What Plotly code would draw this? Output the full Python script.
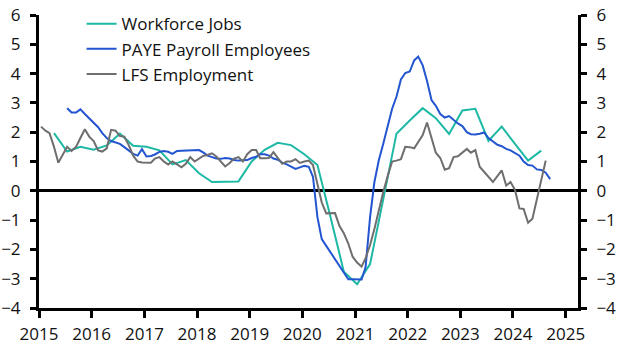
import pandas as pd
import plotly.graph_objects as go

# ---- Data ----
wfj_dates = pd.date_range("2015-03-15", periods=38, freq="3MS") + pd.Timedelta(days=14)
wfj_values = [
    1.97, 1.34, 1.50, 1.40,
    1.55, 1.95, 1.54, 1.50,
    1.38, 0.90, 1.05, 0.60,
    0.30, 0.31, 0.32, 1.00,
    1.40, 1.64, 1.56, 1.25,
    0.88, -0.90, -2.76, -3.19,
    -2.50, -0.30, 1.95, 2.40,
    2.82, 2.48, 1.94, 2.74,
    2.80, 1.70, 2.19, 1.60,
    1.03, 1.37,
]

paye_values = [
    # 2015 Jul-Dec
    2.82, 2.67, 2.67, 2.78, 2.62, 2.48,
    # 2016
    2.32, 2.17, 1.97, 1.80, 1.70, 1.65, 1.60, 1.49, 1.36, 1.26, 1.20, 1.42,
    # 2017
    1.17, 1.19, 1.24, 1.33, 1.36, 1.33, 1.26, 1.36, 1.37, 1.37, 1.37, 1.38,
    # 2018
    1.39, 1.30, 1.20, 1.15, 1.10, 1.09, 1.12, 1.10, 1.05, 1.03, 1.05, 1.05,
    # 2019
    1.12, 1.16, 1.25, 1.25, 1.20, 1.10, 1.06, 0.96, 0.90, 0.82, 0.75, 0.80,
    # 2020
    0.85, 0.82, 0.48, -0.90, -1.65, -1.88, -2.10, -2.33, -2.60, -2.80, -3.02, -3.02,
    # 2021
    -3.03, -3.03, -2.60, -0.90, 0.30, 1.05, 1.60, 2.20, 2.80, 3.21, 3.80, 4.02,
    # 2022
    4.07, 4.45, 4.58, 4.28, 3.75, 3.10, 2.90, 2.62, 2.50, 2.55, 2.42, 2.30,
    # 2023
    2.21, 2.00, 1.93, 1.92, 1.95, 1.99, 1.80, 1.68, 1.57, 1.52, 1.43, 1.38,
    # 2024 Jan-Sep
    1.30, 1.20, 1.00, 0.88, 0.86, 0.73, 0.71, 0.62, 0.40,
]
paye_dates = pd.date_range("2015-07-01", periods=len(paye_values), freq="MS") + pd.Timedelta(days=14)

lfs_values = [
    # 2015
    2.19, 2.05, 1.97, 1.50, 0.96, 1.25, 1.50, 1.36, 1.50, 1.80, 2.10, 1.85,
    # 2016
    1.70, 1.38, 1.34, 1.45, 2.08, 2.05, 1.87, 1.85, 1.55, 1.20, 1.00, 0.97,
    # 2017
    0.96, 0.96, 1.10, 1.15, 1.00, 0.90, 1.00, 0.90, 0.80, 0.92, 1.15, 1.00,
    # 2018
    1.10, 1.20, 1.22, 1.28, 1.17, 1.00, 0.83, 0.95, 1.10, 1.15, 1.00, 1.25,
    # 2019
    1.39, 1.39, 1.11, 1.11, 1.12, 1.32, 1.14, 0.92, 1.00, 1.00, 1.08, 0.95,
    # 2020
    1.00, 1.03, 0.88, 0.20, -0.40, -0.77, -0.77, -0.76, -1.20, -1.45, -1.80, -2.25,
    # 2021
    -2.45, -2.59, -2.30, -1.85, -1.30, -0.65, -0.05, 0.50, 1.00, 1.03, 1.08, 1.50,
    # 2022
    1.49, 1.45, 1.65, 1.90, 2.33, 1.80, 1.30, 1.12, 0.72, 0.77, 1.15, 1.18,
    # 2023
    1.32, 1.43, 1.30, 1.39, 0.82, 0.65, 0.45, 0.30, 0.50, 0.70, 0.18, 0.30,
    # 2024 Jan-Aug
    0.03, -0.60, -0.62, -1.09, -0.95, -0.25, 0.45, 1.03,
]
lfs_dates = pd.date_range("2015-01-01", periods=len(lfs_values), freq="MS") + pd.Timedelta(days=14)

series_names = ["Workforce Jobs", "PAYE Payroll Employees", "LFS Employment"]
y_ticks = [-4, -3, -2, -1, 0, 1, 2, 3, 4, 5, 6]

# ---- Styles ----
colors = ["#1DB9A4", "#2255CF", "#6E6E6E"]
FONT = "Open Sans"
FS = 17

fig = go.Figure()
for name, x, y, c in zip(series_names,
                         [wfj_dates, paye_dates, lfs_dates],
                         [wfj_values, paye_values, lfs_values],
                         colors):
    fig.add_trace(go.Scatter(x=x, y=y, mode="lines", name=name,
                             line=dict(color=c, width=2)))

# invisible trace to activate right axis
fig.add_trace(go.Scatter(x=[lfs_dates[0]], y=[0], yaxis="y2", mode="lines",
                         showlegend=False, hoverinfo="skip",
                         line=dict(color="rgba(0,0,0,0)")))

axis_common = dict(
    range=[-4, 6], tickvals=y_ticks, showgrid=False, automargin=False,
    showline=True, linecolor="black", linewidth=3,
    ticks="outside", ticklen=6, tickwidth=2.5, tickcolor="black",
    tickfont=dict(family=FONT, size=FS, color="#111"),
    ticklabelstandoff=6,
)

fig.update_layout(
    width=627, height=353,
    margin=dict(l=39, r=49, t=15, b=45, autoexpand=False),
    paper_bgcolor="white", plot_bgcolor="white",
    font=dict(family=FONT, size=FS, color="#111"),
    showlegend=True,
    legend=dict(x=0.079, y=1.03, xanchor="left", yanchor="top",
                bgcolor="rgba(0,0,0,0)", font=dict(family=FONT, size=FS),
                tracegroupgap=0),
    xaxis=dict(
        type="date", range=["2015-01-01", "2025-03-27"],
        dtick="M12", tick0="2015-01-01", tickformat="%Y",
        showgrid=False, showline=True, linecolor="black", linewidth=3,
        ticks="outside", ticklen=7, tickwidth=2.5, tickcolor="black",
        tickfont=dict(family=FONT, size=FS, color="#111"),
        zeroline=False, automargin=False, ticklabelstandoff=2,
    ),
    yaxis=dict(**axis_common, zeroline=True, zerolinecolor="black", zerolinewidth=3),
    yaxis2=dict(**axis_common, overlaying="y", side="right", zeroline=False),
)

fig.write_html("out.html")
